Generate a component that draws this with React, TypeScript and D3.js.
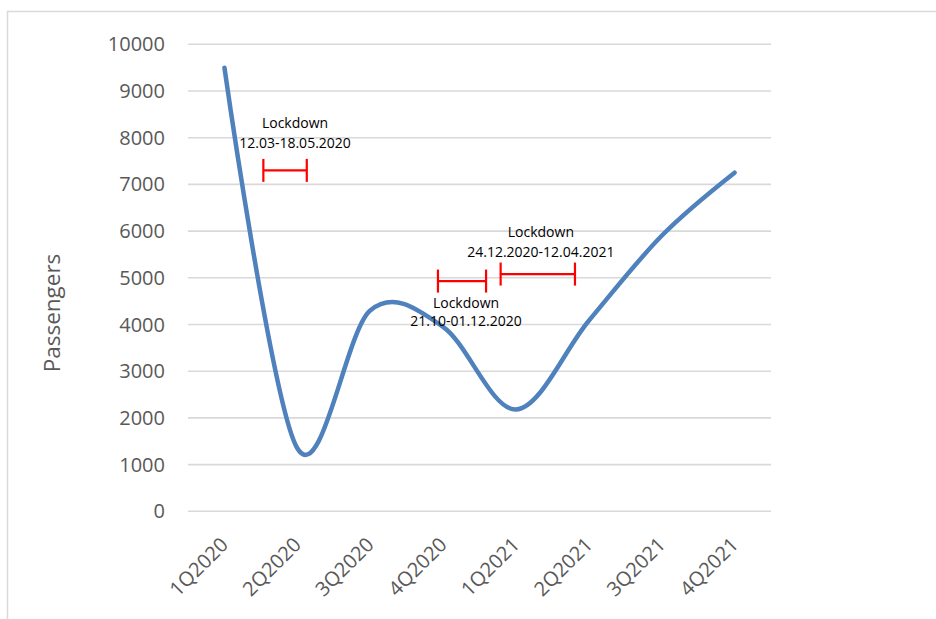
import React from "react";
import * as d3 from "d3";

// Quarterly passenger counts
const quarters = ["1Q2020", "2Q2020", "3Q2020", "4Q2020", "1Q2021", "2Q2021", "3Q2021", "4Q2021"];
const passengers = [9500, 1350, 4300, 3950, 2180, 4080, 5900, 7250];
const yTicks = [0, 1000, 2000, 3000, 4000, 5000, 6000, 7000, 8000, 9000, 10000];

// Lockdown periods, expressed on the quarter index axis (fractional) and passenger axis
const lockdownStart = [0.534, 2.93, 3.79];
const lockdownEnd = [1.13, 3.59, 4.81];
const lockdownLevel = [7300, 4930, 5080];
const lockdownLabelX = [0.969, 3.315, 4.342];
const lockdownLabelY = [8310, 4455, 5975];
const lockdownLineGap = [20, 17.5, 20];
const lockdownDates = ["12.03-18.05.2020", "21.10-01.12.2020", "24.12.2020-12.04.2021"];

const W = 936;
const H = 619;
const plotLeft = 188;
const plotRight = 771;
const plotTop = 44.3;
const plotBottom = 511.3;

const font = "'Open Sans', sans-serif";

export default function App() {
  const x = d3.scalePoint<string>().domain(quarters).range([plotLeft, plotRight]).padding(0.5);
  const xi = d3
    .scaleLinear()
    .domain([0, quarters.length - 1])
    .range([x(quarters[0]) as number, x(quarters[quarters.length - 1]) as number]);
  const y = d3.scaleLinear().domain([0, 10000]).range([plotBottom, plotTop]);

  const line = d3
    .line<number>()
    .x((_, i) => x(quarters[i]) as number)
    .y((d) => y(d))
    .curve(d3.curveCardinal.tension(0));

  return (
    <svg
      width={W}
      height={H}
      style={{ position: "fixed", left: 0, top: 0, background: "#fff" }}
      fontFamily={font}
    >
      <rect x={0} y={0} width={W} height={H} fill="#fff" />
      {/* chart frame */}
      <rect x={7.5} y={11.5} width={W + 20} height={H + 20} fill="none" stroke="#d9d9d9" strokeWidth={1.5} />

      {/* gridlines and y labels */}
      {yTicks.map((t) => (
        <g key={t}>
          <line x1={plotLeft} x2={plotRight} y1={y(t)} y2={y(t)} stroke="#d9d9d9" strokeWidth={1.6} />
          <text x={165} y={y(t)} dy="0.35em" textAnchor="end" fontSize={20} fill="#595959">
            {t}
          </text>
        </g>
      ))}

      {/* axis title */}
      <text
        transform={`translate(60,313) rotate(-90)`}
        textAnchor="middle"
        fontSize={22.5}
        fill="#595959"
      >
        Passengers
      </text>

      {/* x labels */}
      {quarters.map((q) => (
        <text
          key={q}
          transform={`translate(${(x(q) as number) + 5},546) rotate(-45)`}
          textAnchor="end"
          fontSize={20}
          fill="#595959"
        >
          {q}
        </text>
      ))}

      {/* passenger line */}
      <path d={line(passengers) ?? ""} fill="none" stroke="#4f81bd" strokeWidth={4.5} strokeLinecap="round" />

      {/* lockdown brackets */}
      {lockdownDates.map((label, i) => {
        const x1 = xi(lockdownStart[i]);
        const x2 = xi(lockdownEnd[i]);
        const yy = y(lockdownLevel[i]);
        const lx = xi(lockdownLabelX[i]);
        const ly = y(lockdownLabelY[i]);
        return (
          <g key={label}>
            <line x1={x1} x2={x2} y1={yy} y2={yy} stroke="#ff0000" strokeWidth={2.2} />
            <line x1={x1} x2={x1} y1={yy - 11.5} y2={yy + 11.5} stroke="#ff0000" strokeWidth={2.2} />
            <line x1={x2} x2={x2} y1={yy - 11.5} y2={yy + 11.5} stroke="#ff0000" strokeWidth={2.2} />
            <text x={lx} y={ly} dy="0.35em" textAnchor="middle" fontSize={14} fill="#000">
              Lockdown
            </text>
            <text x={lx} y={ly + lockdownLineGap[i]} dy="0.35em" textAnchor="middle" fontSize={14} fill="#000">
              {label}
            </text>
          </g>
        );
      })}
    </svg>
  );
}
